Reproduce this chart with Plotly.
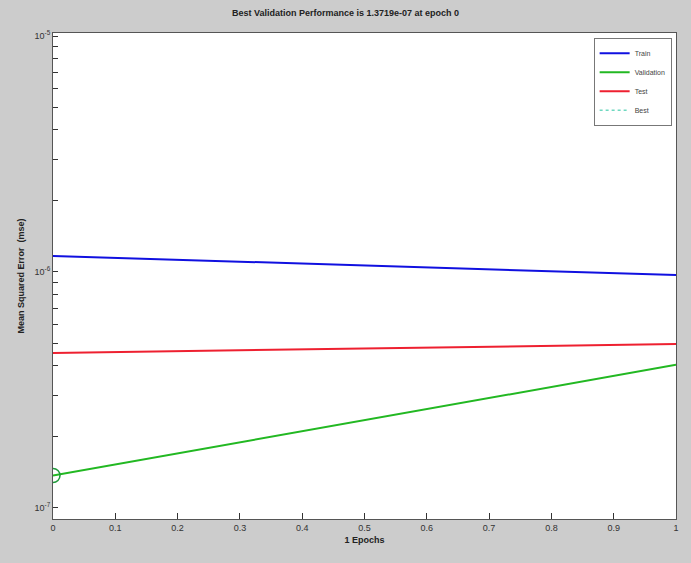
import plotly.graph_objects as go

# Training record: performance (mse) at each epoch
epochs = [0, 1]
train_mse = [1.17e-6, 0.97e-6]
validation_mse = [1.3719e-7, 4.04e-7]
test_mse = [4.54e-7, 4.95e-7]
best_epoch = 0
best_mse = 1.3719e-7

x_ticks = [0, 0.1, 0.2, 0.3, 0.4, 0.5, 0.6, 0.7, 0.8, 0.9, 1]
x_labels = ["0", "0.1", "0.2", "0.3", "0.4", "0.5", "0.6", "0.7", "0.8", "0.9", "1"]
y_exponents = [-7, -6, -5]

# decade ticks get a 10^n label, intermediate log ticks stay unlabelled
y_tickvals, y_ticktext = [], []
for e in y_exponents:
    y_tickvals.append(10.0 ** e)
    y_ticktext.append(f"10<sup>{e}</sup>")
    if e != y_exponents[-1]:
        for m in range(2, 10):
            y_tickvals.append(m * 10.0 ** e)
            y_ticktext.append("")
y_range = [-7.047, -4.987]

fig = go.Figure()
fig.add_trace(go.Scatter(x=epochs, y=train_mse, mode="lines", name="Train",
                         line=dict(color="#1010e0", width=2)))
fig.add_trace(go.Scatter(x=epochs, y=validation_mse, mode="lines", name="Validation",
                         line=dict(color="#22b822", width=2)))
fig.add_trace(go.Scatter(x=epochs, y=test_mse, mode="lines", name="Test",
                         line=dict(color="#ee2030", width=2)))
# best-epoch circle, with a dotted legend entry
fig.add_trace(go.Scatter(x=[best_epoch], y=[best_mse], mode="markers", showlegend=False,
                         marker=dict(symbol="circle-open", size=14, color="#1f9a3a",
                                     line=dict(color="#1f9a3a", width=1.5))))
fig.add_trace(go.Scatter(x=[None], y=[None], mode="lines", name="Best",
                         line=dict(color="#6fd8c0", width=1.5, dash="dot")))

font_family = "Liberation Sans, Arial, sans-serif"
axis_font = dict(family=font_family, size=9, color="#333333")

fig.update_layout(
    width=691, height=563,
    paper_bgcolor="#cccccc", plot_bgcolor="white",
    margin=dict(l=53, r=15, t=33, b=44),
    title=dict(text="<b>Best Validation Performance is 1.3719e-07 at epoch 0</b>",
               x=0.5, xanchor="center", y=0.978, yanchor="middle",
               font=dict(family=font_family, size=9, color="#222222")),
    showlegend=True,
    legend=dict(x=0.993, y=0.99, xanchor="right", yanchor="top",
                bgcolor="white", bordercolor="#777777", borderwidth=1,
                font=dict(family=font_family, size=7, color="#444444"),
                itemwidth=30, tracegroupgap=0),
    font=axis_font,
)

fig.update_xaxes(
    range=[0, 1], tickvals=x_ticks, ticktext=x_labels,
    ticks="inside", ticklen=6, tickwidth=1, tickcolor="#333333",
    showline=True, linecolor="#555555", linewidth=1, mirror=True,
    showgrid=False, zeroline=False,
    title=dict(text="<b>1 Epochs</b>", font=dict(family=font_family, size=9, color="#222222"), standoff=4),
    tickfont=axis_font,
)
fig.update_yaxes(
    type="log", range=y_range, tickmode="array", tickvals=y_tickvals, ticktext=y_ticktext,
    ticks="inside", ticklen=5, tickwidth=1, tickcolor="#333333",
    showline=True, linecolor="#555555", linewidth=1, mirror=True,
    showgrid=False, zeroline=False,
    title=dict(text="<b>Mean Squared Error  (mse)</b>", font=dict(family=font_family, size=9, color="#222222"), standoff=8),
    tickfont=axis_font,
)

fig.write_html("out.html")
